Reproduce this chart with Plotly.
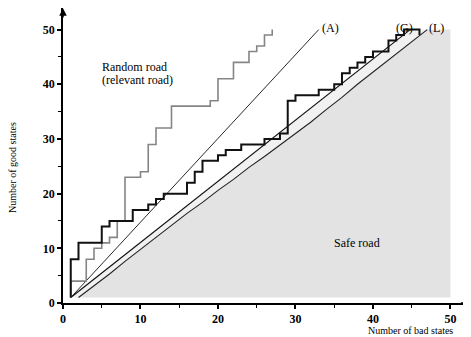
import plotly.graph_objects as go

# ---- data ----
# black staircase (jump position, level after jump)
black_x = [1, 1, 2, 5, 6, 9, 11, 12, 13, 16, 17, 18, 20, 21, 23, 26, 28, 29, 30, 33, 35, 36, 37, 38, 39, 40, 42, 43, 44, 46]
black_y = [1, 8, 11, 14, 15, 17, 18, 19, 20, 22, 24, 26, 27, 28, 29, 30, 31, 37, 38, 39, 40, 42, 43, 44, 45, 46, 48, 49, 50, 49]

# gray staircase: random road (relevant road)
gray_x = [1, 1, 3, 4, 5, 6, 7, 8, 10, 11, 12, 14, 19, 20, 22, 24, 25, 26, 27]
gray_y = [1, 4, 8, 10, 11, 12, 15, 23, 24, 29, 32, 36, 37, 41, 44, 46, 47, 49, 50]

# straight lines (A) and (G)
A_x = [1, 33]
A_y = [1, 50]
G_x = [1, 44.8]
G_y = [1, 50]

# curve (L)
L_x = [2, 4, 6, 8, 10, 12, 14, 16, 18, 20, 22, 24, 26, 28, 30, 32, 34, 36, 38, 40, 42, 44, 46, 47]
L_y = [1, 3.1, 5.3, 7.6, 9.8, 12.1, 14.3, 16.4, 18.4, 20.6, 22.6, 24.8, 26.8, 28.9, 31.0, 33.1, 35.4, 37.6, 40.0, 42.2, 44.4, 46.7, 48.9, 50]

# safe-road region corners
safe_right = 50
safe_bottom = 1
safe_top = 50

x_ticks = [0, 10, 20, 30, 40, 50]
y_ticks = [0, 10, 20, 30, 40, 50]

FONT = "Liberation Serif, Times New Roman, serif"

fig = go.Figure()

# dark gray safe region below L
fig.add_trace(go.Scatter(
    x=L_x + [safe_right, safe_right, L_x[0]],
    y=L_y + [safe_top, safe_bottom, safe_bottom],
    fill="toself", fillcolor="#e3e3e3", line=dict(width=0), mode="lines",
    hoverinfo="skip"))

# light band between G and L
fig.add_trace(go.Scatter(
    x=G_x + L_x[::-1],
    y=G_y + L_y[::-1],
    fill="toself", fillcolor="#f1f1f1", line=dict(width=0), mode="lines",
    hoverinfo="skip"))

fig.add_trace(go.Scatter(x=L_x, y=L_y, mode="lines", line=dict(color="#222222", width=1.1)))
fig.add_trace(go.Scatter(x=G_x, y=G_y, mode="lines", line=dict(color="#111111", width=1.2)))
fig.add_trace(go.Scatter(x=A_x, y=A_y, mode="lines", line=dict(color="#111111", width=0.9)))
fig.add_trace(go.Scatter(x=gray_x, y=gray_y, mode="lines", line=dict(color="#858585", width=1.6, shape="hv")))
fig.add_trace(go.Scatter(x=black_x, y=black_y, mode="lines", line=dict(color="#111111", width=2, shape="hv")))

xmax = 52.65
ymax = 53.95

axis_common = dict(
    showgrid=False, zeroline=False, showline=True, linecolor="black", linewidth=1.5,
    ticks="outside", ticklen=4, tickwidth=1.5, tickcolor="black",
    tickfont=dict(family=FONT, size=12, color="black"),
    minor=dict(ticks="outside", ticklen=3, tickwidth=1.2, tickcolor="black", dtick=5, tick0=0, showgrid=False),
)

fig.update_xaxes(range=[0, xmax], tickvals=x_ticks, ticktext=[f"<b>{v}</b>" for v in x_ticks], **axis_common)
fig.update_yaxes(range=[0, ymax], tickvals=y_ticks, ticktext=[f"<b>{v}</b>" for v in y_ticks], **axis_common)

ann = []
# axis arrows
ann.append(dict(x=xmax - 0.05, y=0, ax=xmax - 1.5, ay=0, xref="x", yref="y", axref="x", ayref="y",
                text="", showarrow=True, arrowhead=2, arrowsize=1, arrowwidth=1.5, arrowcolor="black"))
ann.append(dict(x=0, y=ymax - 0.05, ax=0, ay=ymax - 2, xref="x", yref="y", axref="x", ayref="y",
                text="", showarrow=True, arrowhead=2, arrowsize=1, arrowwidth=1.5, arrowcolor="black"))

def txt(x, y, s, size=12, xanchor="left", yanchor="middle", xref="x", yref="y", angle=0):
    return dict(x=x, y=y, text=s, showarrow=False, xref=xref, yref=yref, xanchor=xanchor,
                yanchor=yanchor, textangle=angle, font=dict(family=FONT, size=size, color="black"))

ann.append(txt(4.8, 43.2, "Random road"))
ann.append(txt(4.8, 40.7, "(relevant road)"))
ann.append(txt(33.1, 50.3, "(A)"))
ann.append(txt(44.1, 50.3, "(G)", xanchor="center"))
ann.append(txt(47.0, 50.3, "(L)"))
ann.append(txt(38.0, 11.0, "Safe road", xanchor="center"))
ann.append(txt(-0.125, 0.4576, "Number of good states", size=10, xanchor="center", xref="paper", yref="paper", angle=-90))
ann.append(txt(0.8505, -0.094, "Number of bad states", size=10, xanchor="center", xref="paper", yref="paper"))

# the page body adds an 8 px margin, so the figure is sized to fit the 471x337 window
fig.update_layout(
    width=463, height=329,
    margin=dict(l=55, r=0, t=0, b=34),
    plot_bgcolor="white", paper_bgcolor="white",
    showlegend=False,
    font=dict(family=FONT, color="black"),
    annotations=ann,
)

fig.write_html("out.html")
